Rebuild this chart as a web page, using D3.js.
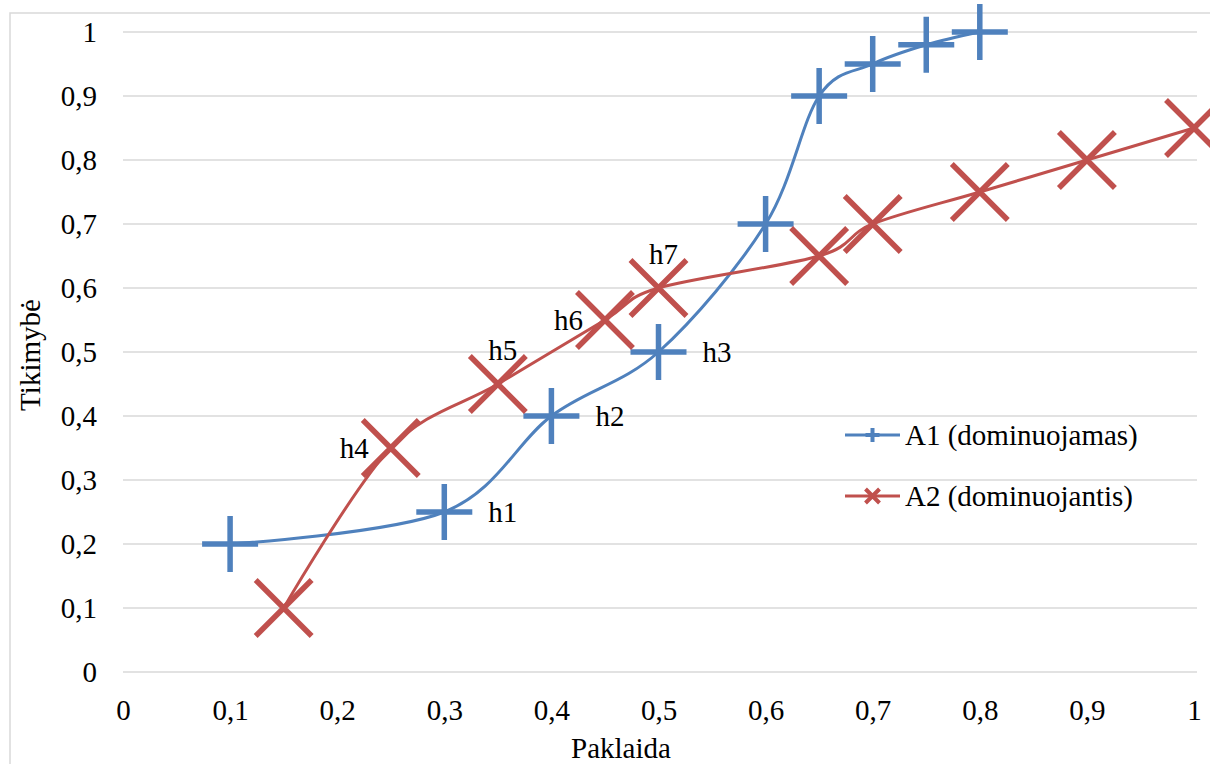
<!DOCTYPE html>
<html>
<head>
<meta charset="utf-8">
<script src="https://cdn.jsdelivr.net/npm/d3@7"></script>
<style>
  html, body { margin: 0; padding: 0; background: #ffffff; }
  svg text { font-family: "Liberation Serif", "Times New Roman", Times, "DejaVu Serif", serif !important; }
</style>
</head>
<body>
<svg id="chart" width="1210" height="764"></svg>
<script>
// Series A1 (dominuojamas)
const a1X = [0.1, 0.3, 0.4, 0.5, 0.6, 0.65, 0.7, 0.75, 0.8];
const a1Y = [0.2, 0.25, 0.4, 0.5, 0.7, 0.9, 0.95, 0.98, 1.0];
const a1Labels = [null, "h1", "h2", "h3", null, null, null, null, null];

// Series A2 (dominuojantis)
const a2X = [0.15, 0.25, 0.35, 0.45, 0.5, 0.65, 0.7, 0.8, 0.9, 1.0];
const a2Y = [0.1, 0.35, 0.45, 0.55, 0.6, 0.65, 0.7, 0.75, 0.8, 0.85];
const a2Labels = [null, "h4", "h5", "h6", "h7", null, null, null, null, null];

// Axis ticks
const xTicks = [0, 0.1, 0.2, 0.3, 0.4, 0.5, 0.6, 0.7, 0.8, 0.9, 1];
const yTicks = [0, 0.1, 0.2, 0.3, 0.4, 0.5, 0.6, 0.7, 0.8, 0.9, 1];

const seriesNames = ["A1 (dominuojamas)", "A2 (dominuojantis)"];
const xTitle = "Paklaida";
const yTitle = "Tikimybė";

// label placement per data label
const labelSide = { h1: "right", h2: "right", h3: "right", h4: "left", h5: "above", h6: "left", h7: "above" };

const BLUE = "#4f81bd";
const RED = "#c0504d";
const GRID = "#d9d9d9";
const FONT = 29;

const svg = d3.select("#chart");

// outer chart border
svg.append("rect")
  .attr("x", 10).attr("y", 13)
  .attr("width", 1240).attr("height", 800)
  .attr("fill", "none").attr("stroke", GRID).attr("stroke-width", 1.5);

const x = d3.scaleLinear().domain([0, 1]).range([123, 1194]);
const y = d3.scaleLinear().domain([0, 1]).range([672, 32]);

const loc = d3.formatLocale({ decimal: ",", thousands: " ", grouping: [3], currency: ["", ""] });
const fmt = v => loc.format("~g")(v);

// horizontal gridlines
svg.append("g").selectAll("line").data(yTicks).join("line")
  .attr("x1", x(0)).attr("x2", x(1) + 3)
  .attr("y1", d => y(d)).attr("y2", d => y(d))
  .attr("stroke", GRID).attr("stroke-width", 1.5);

// y axis
const yAxis = svg.append("g")
  .attr("transform", `translate(${x(0)},0)`)
  .call(d3.axisLeft(y).tickValues(yTicks).tickFormat(fmt).tickSize(0).tickPadding(26));
yAxis.select(".domain").remove();
yAxis.attr("font-family", null).attr("font-size", null);
yAxis.selectAll("text").attr("font-size", FONT).attr("fill", "#000");

// x axis
const xAxis = svg.append("g")
  .attr("transform", `translate(0,${y(0)})`)
  .call(d3.axisBottom(x).tickValues(xTicks).tickFormat(fmt).tickSize(0).tickPadding(27));
xAxis.select(".domain").remove();
xAxis.attr("font-family", null).attr("font-size", null);
xAxis.selectAll("text").attr("font-size", FONT).attr("fill", "#000");

// axis titles
svg.append("text")
  .attr("x", 621).attr("y", 758)
  .attr("text-anchor", "middle").attr("font-size", FONT).attr("fill", "#000")
  .text(xTitle);
svg.append("text")
  .attr("transform", "translate(40,355) rotate(-90)")
  .attr("text-anchor", "middle").attr("font-size", FONT).attr("fill", "#000")
  .text(yTitle);

const line = d3.line()
  .x(d => x(d[0])).y(d => y(d[1]))
  .curve(d3.curveCardinal.tension(0));

const a1 = a1X.map((v, i) => [v, a1Y[i], a1Labels[i]]);
const a2 = a2X.map((v, i) => [v, a2Y[i], a2Labels[i]]);

// marker shapes
function plusPath(cx, cy, r) {
  return `M${cx - r},${cy}H${cx + r}M${cx},${cy - r}V${cy + r}`;
}
function crossPath(cx, cy, r) {
  return `M${cx - r},${cy - r}L${cx + r},${cy + r}M${cx - r},${cy + r}L${cx + r},${cy - r}`;
}

// series lines
svg.append("path").datum(a1).attr("d", line)
  .attr("fill", "none").attr("stroke", BLUE).attr("stroke-width", 3);
svg.append("path").datum(a2).attr("d", line)
  .attr("fill", "none").attr("stroke", RED).attr("stroke-width", 3);

// markers
svg.append("g").selectAll("path").data(a1).join("path")
  .attr("d", d => plusPath(x(d[0]), y(d[1]), 28))
  .attr("stroke", BLUE).attr("stroke-width", 5.5).attr("fill", "none");
svg.append("g").selectAll("path").data(a2).join("path")
  .attr("d", d => crossPath(x(d[0]), y(d[1]), 28))
  .attr("stroke", RED).attr("stroke-width", 5.5).attr("fill", "none");

// data labels
function placeLabel(sel) {
  sel.each(function (d) {
    const px = x(d[0]), py = y(d[1]);
    const side = labelSide[d[2]];
    const t = d3.select(this);
    if (side === "right") {
      t.attr("x", px + 44).attr("y", py + 10).attr("text-anchor", "start");
    } else if (side === "left") {
      t.attr("x", px - 22).attr("y", py + 10).attr("text-anchor", "end");
    } else {
      t.attr("x", px + 5).attr("y", py - 24).attr("text-anchor", "middle");
    }
  });
}
svg.append("g").selectAll("text").data(a1.concat(a2).filter(d => d[2])).join("text")
  .attr("font-size", FONT).attr("fill", "#000")
  .text(d => d[2])
  .call(placeLabel);

// legend
const legend = svg.append("g");
const legendRows = [
  { name: seriesNames[0], color: BLUE, shape: plusPath, cy: 435 },
  { name: seriesNames[1], color: RED, shape: crossPath, cy: 496 }
];
legendRows.forEach(r => {
  legend.append("line")
    .attr("x1", 845).attr("x2", 900).attr("y1", r.cy).attr("y2", r.cy)
    .attr("stroke", r.color).attr("stroke-width", 3);
  legend.append("path")
    .attr("d", r.shape(872.5, r.cy, 7))
    .attr("stroke", r.color).attr("stroke-width", 4).attr("fill", "none");
  legend.append("text")
    .attr("x", 905).attr("y", r.cy + 10)
    .attr("font-size", FONT).attr("fill", "#000")
    .text(r.name);
});
</script>
</body>
</html>
